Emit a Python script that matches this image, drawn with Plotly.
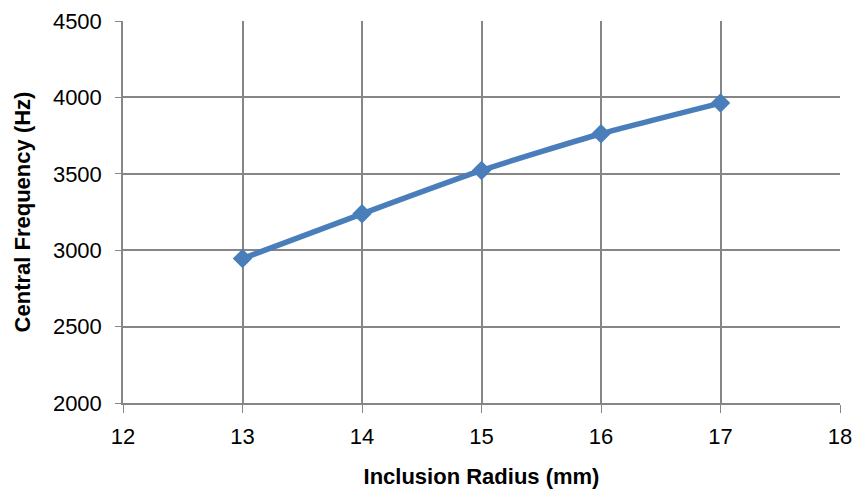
import plotly.graph_objects as go

# Inclusion radius (mm) vs. central frequency (Hz)
radius_mm = [13, 14, 15, 16, 17]
central_freq_hz = [2945, 3238, 3522, 3762, 3963]

x_ticks = [12, 13, 14, 15, 16, 17, 18]
y_ticks = [2000, 2500, 3000, 3500, 4000, 4500]

grid_color = "#868686"
line_color = "#4A7EBB"
font_family = "Liberation Sans, Arial, sans-serif"

fig = go.Figure()
fig.add_trace(go.Scatter(
    x=radius_mm,
    y=central_freq_hz,
    mode="lines+markers",
    line=dict(color=line_color, width=5.5, shape="spline", smoothing=0.6),
    marker=dict(symbol="diamond", size=15, color=line_color),
    showlegend=False,
))

fig.update_layout(
    width=857,
    height=494,
    margin=dict(l=123, r=17, t=21, b=91, autoexpand=False),
    paper_bgcolor="white",
    plot_bgcolor="white",
    font=dict(family=font_family, size=22, color="black"),
    xaxis=dict(
        range=[12, 18],
        tickvals=x_ticks,
        ticktext=[str(v) for v in x_ticks],
        showgrid=True,
        gridcolor=grid_color,
        gridwidth=1.5,
        showline=True,
        linecolor=grid_color,
        linewidth=1.5,
        ticks="outside",
        ticklen=8,
        tickcolor=grid_color,
        ticklabelstandoff=5,
        zeroline=False,
        automargin=False,
        title=dict(text="<b>Inclusion Radius (mm)</b>", font=dict(size=22), standoff=20),
    ),
    yaxis=dict(
        range=[2000, 4500],
        tickvals=y_ticks,
        ticktext=[str(v) for v in y_ticks],
        showgrid=True,
        gridcolor=grid_color,
        gridwidth=1.5,
        showline=True,
        linecolor=grid_color,
        linewidth=1.5,
        ticks="outside",
        ticklen=6,
        tickcolor=grid_color,
        ticklabelstandoff=9,
        zeroline=False,
        automargin=False,
        title=dict(text="<b>Central Frequency (Hz)</b>", font=dict(size=22), standoff=16),
    ),
)

fig.write_html("out.html")
